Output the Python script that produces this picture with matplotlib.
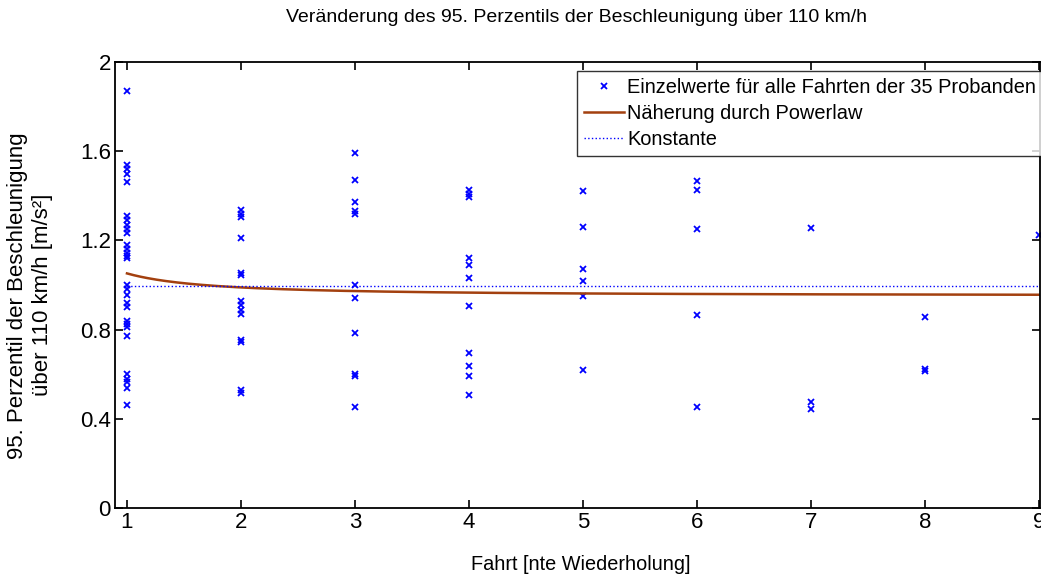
import numpy as np
import matplotlib
matplotlib.use('Agg')
import matplotlib.pyplot as plt

plt.rcParams['font.family'] = ['Liberation Sans', 'DejaVu Sans']

# 95th percentile of acceleration above 110 km/h, per trip repetition
fahrt = [1, 2, 3, 4, 5, 6, 7, 8, 9]
werte = [
    [1.87, 1.54, 1.52, 1.50, 1.46, 1.31, 1.29, 1.27, 1.25, 1.235, 1.18, 1.16, 1.145,
     1.13, 1.12, 1.00, 0.98, 0.955, 0.92, 0.90, 0.84, 0.825, 0.81, 0.77, 0.60, 0.58,
     0.565, 0.54, 0.46],
    [1.335, 1.32, 1.305, 1.21, 1.055, 1.045, 0.93, 0.91, 0.89, 0.87, 0.755, 0.745,
     0.53, 0.515],
    [1.59, 1.47, 1.37, 1.33, 1.32, 1.00, 0.94, 0.785, 0.60, 0.59, 0.455],
    [1.425, 1.41, 1.395, 1.12, 1.09, 1.03, 0.905, 0.695, 0.635, 0.59, 0.505],
    [1.42, 1.26, 1.07, 1.02, 0.95, 0.62],
    [1.465, 1.425, 1.25, 0.865, 0.455],
    [1.255, 0.475, 0.445],
    [0.855, 0.625, 0.615],
    [1.225],
]

# powerlaw fit y = a * x^b + c and constant fit
pl_a, pl_b, pl_c = 0.10, -1.43, 0.952
konstante = 0.995

W, H = 1041, 577
fig = plt.figure(figsize=(W / 100, H / 100), dpi=100)
ax = fig.add_axes([115 / W, 1 - 508 / H, 925 / W, 446 / H])

xs = np.concatenate([[f] * len(w) for f, w in zip(fahrt, werte)])
ys = np.concatenate(werte)
ax.plot(xs, ys, 'x', color='#0000ff', markersize=4, markeredgewidth=1.3,
        label='Einzelwerte für alle Fahrten der 35 Probanden')

xf = np.linspace(1, 9, 400)
ax.plot(xf, pl_a * xf ** pl_b + pl_c, '-', color='#a3400f', linewidth=1.8,
        label='Näherung durch Powerlaw')
ax.plot([1, 9], [konstante, konstante], ':', color='#0000ff', linewidth=1.0,
        label='Konstante')

ax.set_xlim(0.895, 9.01)
ax.set_ylim(0, 2)
ax.set_xticks(fahrt)
ax.set_yticks([0, 0.4, 0.8, 1.2, 1.6, 2])
ax.set_yticklabels(['0', '0.4', '0.8', '1.2', '1.6', '2'])
ax.tick_params(direction='in', length=6, width=1.2, top=True, right=True,
               labelsize=16, pad=3)
for s in ax.spines.values():
    s.set_linewidth(1.3)

fig.text(577 / W, 1 - 18 / H,
         'Veränderung des 95. Perzentils der Beschleunigung über 110 km/h',
         fontsize=14, ha='center', va='center')
fig.text(581 / W, 1 - 565 / H, 'Fahrt [nte Wiederholung]',
         fontsize=14.3, ha='center', va='center')
fig.text(18 / W, 1 - 296 / H, '95. Perzentil der Beschleunigung',
         fontsize=16, rotation=90, ha='center', va='center')
fig.text(43 / W, 1 - 295 / H, 'über 110 km/h [m/s²]',
         fontsize=16, rotation=90, ha='center', va='center')

leg = ax.legend(loc='upper left', bbox_to_anchor=(577 / W, 1 - 71 / H),
                bbox_transform=fig.transFigure, fontsize=14.4, frameon=True,
                fancybox=False, handlelength=2.0, handletextpad=0.15,
                labelspacing=0.35, borderpad=0.35, borderaxespad=0, markerscale=1.0)
leg.get_frame().set_edgecolor('black')
leg.get_frame().set_linewidth(1.0)

fig.savefig('out.png', dpi=100)
